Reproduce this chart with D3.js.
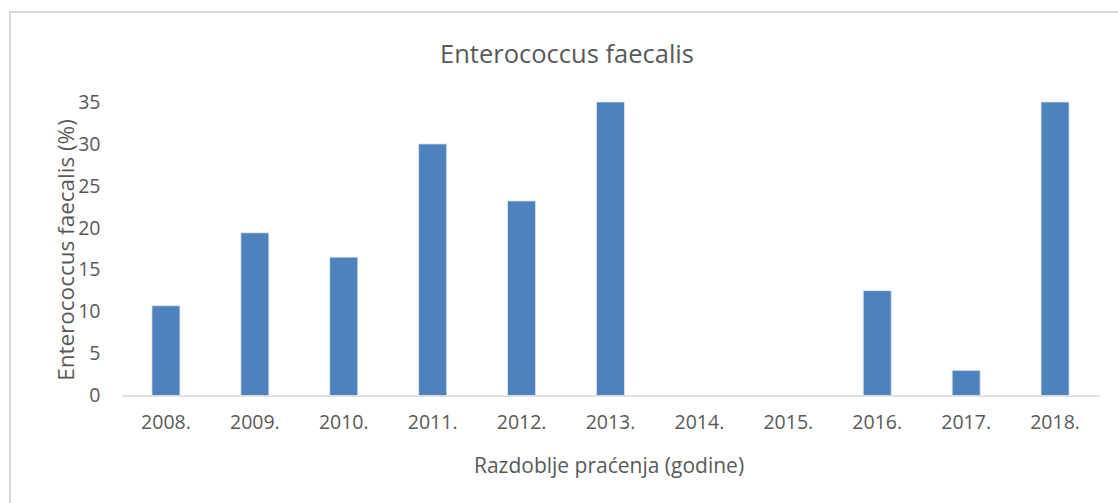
<!DOCTYPE html>
<html lang="hr">
<head>
<meta charset="UTF-8"/>
<script src="https://d3js.org/d3.v7.min.js"></script>
<style>
  body { margin: 0; background: #fff; }
  text { font-family: "Open Sans", Lato, sans-serif; fill: #595959; }
</style>
</head>
<body>
<script>
  // values
  var years  = ["2008.", "2009.", "2010.", "2011.", "2012.", "2013.", "2014.", "2015.", "2016.", "2017.", "2018."];
  var values = [10.7, 19.4, 16.5, 30, 23.2, 35, 0, 0, 12.5, 3, 35];
  var yTicks = [0, 5, 10, 15, 20, 25, 30, 35];

  var w = 1118, h = 503;
  var plotLeft = 121.5, plotRight = 1099.5, plotTop = 102, plotBottom = 395.5;

  var svg = d3.select("body").append("svg")
              .attr("width", w)
              .attr("height", h);

  // chart frame
  svg.append("rect")
     .attr("x", 10).attr("y", 12)
     .attr("width", 1130).attr("height", 520)
     .attr("fill", "none")
     .attr("stroke", "#d9d9d9")
     .attr("stroke-width", 2);

  var xScale = d3.scaleBand()
                 .domain(years)
                 .range([plotLeft, plotRight])
                 .paddingInner(0.685)
                 .paddingOuter(0.3425);

  var yScale = d3.scaleLinear()
                 .domain([0, 35])
                 .range([plotBottom, plotTop]);

  // bars
  svg.selectAll("rect.bar")
     .data(values)
     .enter()
     .append("rect")
     .attr("class", "bar")
     .attr("x", function(d, i) { return xScale(years[i]); })
     .attr("y", function(d) { return yScale(d); })
     .attr("width", xScale.bandwidth())
     .attr("height", function(d) { return plotBottom - yScale(d); })
     .attr("fill", "#4f81bd")
     .attr("stroke", "#dce6f2")
     .attr("stroke-width", 0.8);

  // x axis
  var xAxis = d3.axisBottom(xScale).tickSize(0).tickPadding(20);
  var gx = svg.append("g")
              .attr("transform", "translate(0," + plotBottom + ")")
              .call(xAxis);
  gx.select(".domain").attr("stroke", "#d9d9d9").attr("stroke-width", 1.5);
  gx.selectAll("text").style("font-size", "19.5px").attr("fill", "#595959");

  // y axis
  var yAxis = d3.axisLeft(yScale).tickValues(yTicks).tickSize(0).tickPadding(21);
  var gy = svg.append("g")
              .attr("transform", "translate(" + plotLeft + ",0)")
              .call(yAxis);
  gy.select(".domain").remove();
  gy.selectAll("text").style("font-size", "19.5px").attr("fill", "#595959");
  svg.selectAll("g").attr("font-family", null);

  // title
  svg.append("text")
     .attr("x", 567)
     .attr("y", 63)
     .attr("text-anchor", "middle")
     .style("font-size", "25.5px")
     .text("Enterococcus faecalis");

  // y axis title
  svg.append("text")
     .attr("transform", "translate(74,250) rotate(-90)")
     .attr("text-anchor", "middle")
     .style("font-size", "22.5px")
     .text("Enterococcus faecalis (%)");

  // x axis title
  svg.append("text")
     .attr("x", 609)
     .attr("y", 473)
     .attr("text-anchor", "middle")
     .style("font-size", "21px")
     .text("Razdoblje praćenja (godine)");
</script>
</body>
</html>
